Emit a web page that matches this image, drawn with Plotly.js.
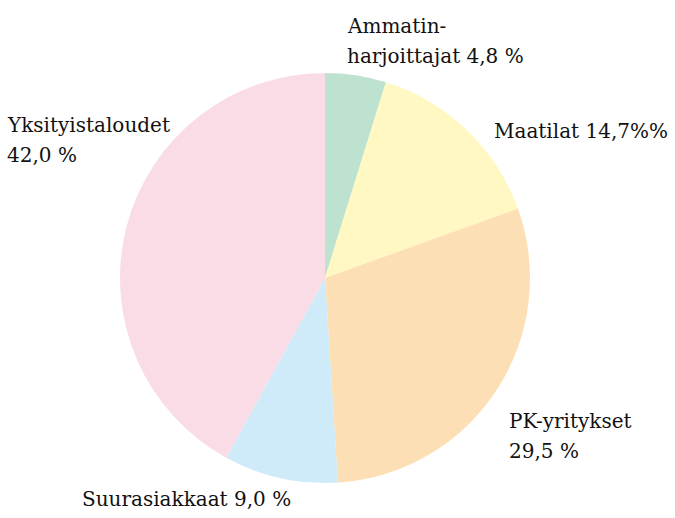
<!DOCTYPE html>
<html>
<head>
<meta charset="utf-8">
<script src="https://cdn.plot.ly/plotly-3.0.1.min.js"></script>
<style>html,body{margin:0;padding:0;background:#fff;}#chart{width:675px;height:518px;}</style>
</head>
<body>
<div id="chart"></div>
<script>
const categories = ["Ammatinharjoittajat", "Maatilat", "PK-yritykset", "Suurasiakkaat", "Yksityistaloudet"];
const values = [4.8, 14.7, 29.5, 9.0, 42.0];
const labelLines = [["Ammatin-", "harjoittajat 4,8 %"], ["Maatilat 14,7%%"], ["PK-yritykset", "29,5 %"], ["Suurasiakkaat 9,0 %"], ["Yksityistaloudet", "42,0 %"]];
const colors = ["#bde2cf", "#fff8c2", "#fddfb6", "#cfeaf8", "#fadce7"];

const W = 675, H = 518;
const cx = 325, cy = 278, r = 205;
// label left edge and first-line baseline in pixels; line step
const labelPos = [[345, 33], [492, 137], [507, 427], [80, 505], [5, 131]];
const lineStep = 30;
const FS = 20;

const annotations = [];
labelLines.forEach((lines, i) => {
  lines.forEach((t, j) => {
    const base = labelPos[i][1] + j * lineStep;
    annotations.push({
      text: t, xref: "paper", yref: "paper",
      x: labelPos[i][0] / W, y: 1 - (base - 6.5) / H,
      xanchor: "left", yanchor: "middle", align: "left", showarrow: false,
      font: {family: "DejaVu Serif", size: FS, color: "#111"}
    });
  });
});

Plotly.newPlot("chart", [{
  type: "pie", labels: categories, values: values, sort: false, direction: "clockwise", rotation: 0,
  marker: {colors: colors, line: {width: 0}}, textinfo: "none", hoverinfo: "label+value",
  domain: {x: [(cx - r) / W, (cx + r) / W], y: [1 - (cy + r) / H, 1 - (cy - r) / H]}
}], {
  width: W, height: H, margin: {l: 0, r: 0, t: 0, b: 0}, showlegend: false,
  paper_bgcolor: "#fff", annotations: annotations
}, {displayModeBar: false, staticPlot: true});
</script>
</body>
</html>
